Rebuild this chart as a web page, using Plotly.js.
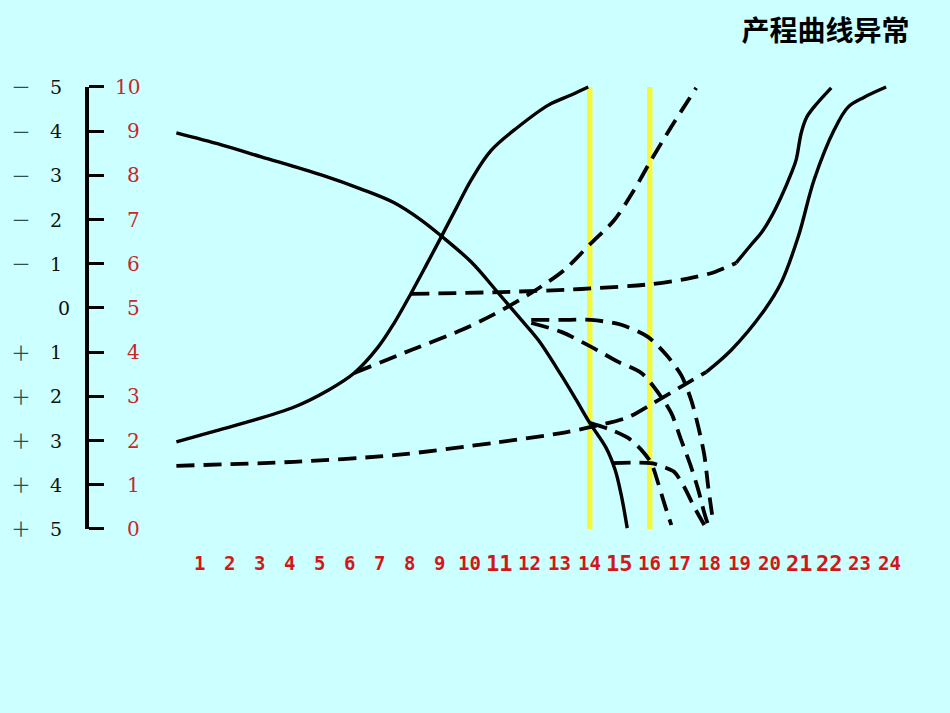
<!DOCTYPE html>
<html>
<head>
<meta charset="utf-8">
<script src="https://cdn.plot.ly/plotly-3.0.1.min.js"></script>
<style>html,body{margin:0;padding:0;background:#CCFFFF;}#chart{width:950px;height:713px;}</style>
</head>
<body>
<div id="chart"></div>
<script>
// ---- data (hours on x, 0-10 scale on y) ----
var hourLabels = ['1','2','3','4','5','6','7','8','9','10','11','12','13','14','15','16','17','18','19','20','21','22','23','24'];
var hourValues = [1,2,3,4,5,6,7,8,9,10,11,12,13,14,15,16,17,18,19,20,21,22,23,24];
var scaleValues = [10,9,8,7,6,5,4,3,2,1,0];
var scaleLabels = ['10','9','8','7','6','5','4','3','2','1','0'];
var stationSigns = ['－','－','－','－','－','','＋','＋','＋','＋','＋'];
var stationLabels = ['5','4','3','2','1','0','1','2','3','4','5'];

// solid descending curve (head descent)
var descentX = [0.22,1.72,3.05,5.05,6.38,7.48,8.38,9.05,10.05,10.95,11.72,12.28,13.05,13.55,14.0,14.55,14.85,15.05,15.25];
var descentY = [8.96,8.69,8.42,8.01,7.69,7.38,6.99,6.63,6.04,5.34,4.73,4.28,3.48,2.92,2.40,1.83,1.33,0.77,0.02];
// solid rising curve (cervical dilatation)
var dilateX = [0.22,1.38,2.48,4.15,5.28,6.15,6.95,7.48,8.05,8.55,9.05,9.55,10.05,10.72,11.62,12.62,13.38,13.95];
var dilateY = [1.97,2.19,2.40,2.76,3.14,3.53,4.12,4.66,5.34,5.97,6.61,7.26,7.90,8.57,9.10,9.59,9.82,10.0];
// dashed: slow active phase
var slowX = [6.15,8.05,9.72,10.82,12.05,13.15,14.05,14.82,15.48,16.05,16.72,17.55];
var slowY = [3.53,4.05,4.50,4.86,5.34,5.86,6.47,6.99,7.67,8.35,9.10,9.98];
// dashed: arrest then solid resume
var arrestX = [8.05,11.05,13.72,16.05,17.38,18.15,18.88];
var arrestY = [5.32,5.36,5.43,5.54,5.68,5.81,6.02];
var resumeX = [18.88,19.38,19.72,20.05,20.38,20.72,20.88,21.05,21.22,21.48,22.05];
var resumeY = [6.02,6.43,6.70,7.06,7.51,8.05,8.35,8.96,9.30,9.55,9.98];
// dashed: prolonged latent phase then solid
var latentX = [0.22,4.15,7.48,10.82,13.05,14.05,15.28,16.12,17.15,17.88];
var latentY = [1.43,1.52,1.67,1.95,2.17,2.31,2.53,2.85,3.26,3.55];
var lateActiveX = [17.88,18.72,19.82,20.38,20.95,21.48,22.15,22.62,23.15,23.88];
var lateActiveY = [3.55,4.05,4.95,5.57,6.61,7.90,9.03,9.55,9.77,10.0];
// dashed descent variants
var descA_X = [12.05,13.05,14.05,15.05,15.95,16.55,17.05,17.38,17.62,17.82,17.95,18.08];
var descA_Y = [4.73,4.73,4.73,4.62,4.34,3.94,3.48,2.92,2.31,1.67,0.95,0.32];
var descB_X = [12.05,13.05,14.05,14.95,15.72,16.38,16.72,17.05,17.38,17.62,17.82,17.98];
var descB_Y = [4.66,4.46,4.12,3.78,3.53,2.99,2.62,2.01,1.40,0.88,0.36,0.02];
var descC_X = [14.0,14.72,15.28,15.72,16.05,16.28,16.48,16.72];
var descC_Y = [2.40,2.24,2.06,1.79,1.49,1.04,0.59,0.09];
var descD_X = [14.75,16.05,16.48,16.82,17.15,17.48,17.82];
var descD_Y = [1.49,1.49,1.40,1.29,0.95,0.50,0.09];
// yellow reference lines
var markerHours = [14,16];
var markerSpan = [0,10];

// ---- styling ----
var solid = {color:'#000', width:3.4, shape:'spline', smoothing:1};
var dashed = {color:'#000', width:3.8, dash:'18px,9px', shape:'spline', smoothing:0.8};
function tr(x, y, line){ return {x:x, y:y, mode:'lines', line:line, hoverinfo:'skip', showlegend:false}; }

var traces = [];
markerHours.forEach(function(h){
  traces.push(tr([h,h], markerSpan, {color:'#F7F73A', width:5.5}));
});
traces.push(tr(descentX, descentY, solid));
traces.push(tr(dilateX, dilateY, solid));
traces.push(tr(slowX, slowY, dashed));
traces.push(tr(arrestX, arrestY, dashed));
traces.push(tr(resumeX, resumeY, solid));
traces.push(tr(latentX, latentY, dashed));
traces.push(tr(lateActiveX, lateActiveY, solid));
traces.push(tr(descA_X, descA_Y, dashed));
traces.push(tr(descB_X, descB_Y, dashed));
traces.push(tr(descC_X, descC_Y, dashed));
traces.push(tr(descD_X, descD_Y, dashed));
// empty trace to carry the visible scale axis
traces.push({x:[], y:[], yaxis:'y2', mode:'lines', showlegend:false, hoverinfo:'skip'});

var annotations = [];
var bigHours = {'11':1,'15':1,'21':1,'22':1};
hourLabels.forEach(function(t, i){
  annotations.push({x:hourValues[i], y:-0.77, xref:'x', yref:'y', text:'<b>'+t+'</b>', showarrow:false,
    xanchor:'center', yanchor:'middle',
    font:{family:'DejaVu Sans Mono', size: bigHours[t] ? 22 : 19, color:'#D01818'}});
});
scaleLabels.forEach(function(t, i){
  annotations.push({x:-0.917, y:scaleValues[i], xref:'x', yref:'y', text:t, showarrow:false,
    xanchor:'right', yanchor:'middle', font:{family:'DejaVu Serif', size:20, color:'#C62828'}});
  if (stationSigns[i]) {
    annotations.push({x:-4.95, y:scaleValues[i], xref:'x', yref:'y', text:stationSigns[i], showarrow:false,
      xanchor:'center', yanchor:'middle', font:{family:'Noto Sans CJK SC', size:20, color:'#2F4F4F'}});
  }
  annotations.push({x: stationSigns[i] ? -3.78 : -3.52, y:scaleValues[i], xref:'x', yref:'y', text:stationLabels[i], showarrow:false,
    xanchor:'center', yanchor:'middle', font:{family:'DejaVu Serif', size:19, color:'#111'}});
});

var layout = {
  width:950, height:713,
  margin:{l:0, r:0, t:0, b:0},
  paper_bgcolor:'#CCFFFF', plot_bgcolor:'rgba(0,0,0,0)',
  title:{text:'<b>产程曲线异常</b>', x:0.869, xanchor:'center', y:0.956, yanchor:'middle',
    font:{family:'Noto Sans CJK SC', size:28, color:'#000'}},
  xaxis:{range:[-5.66, 26.01], visible:false, fixedrange:true},
  yaxis:{range:[-4.163, 11.968], visible:false, fixedrange:true},
  yaxis2:{range:[0,10], domain:[0.2581, 0.878], anchor:'free', position:0.0916, side:'right',
    showline:true, linecolor:'#000', linewidth:4, ticks:'outside', ticklen:15, tickwidth:3, tickcolor:'#000',
    tickvals:scaleValues, showticklabels:false, showgrid:false, zeroline:false, fixedrange:true},
  annotations:annotations,
  showlegend:false
};
Plotly.newPlot('chart', traces, layout, {displayModeBar:false, staticPlot:true});
</script>
</body>
</html>
